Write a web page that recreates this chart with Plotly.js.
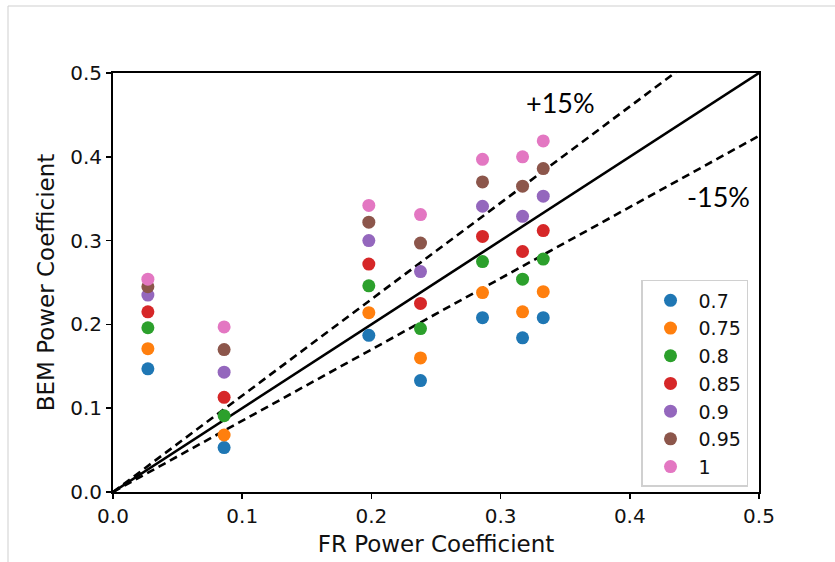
<!DOCTYPE html>
<html>
<head>
<meta charset="utf-8">
<script src="https://cdn.plot.ly/plotly-3.0.1.min.js"></script>
<style>html,body{margin:0;padding:0;background:#fff}#chart{width:835px;height:562px}</style>
</head>
<body>
<div id="chart"></div>
<script>
// FR power coefficient (x) for each test case
const frCp = [0.027, 0.086, 0.198, 0.238, 0.286, 0.317, 0.333];
// Series labels
const seriesNames = ["0.7", "0.75", "0.8", "0.85", "0.9", "0.95", "1"];
// BEM power coefficient for each series
const bem070 = [0.147, 0.053, 0.187, 0.133, 0.208, 0.184, 0.208];
const bem075 = [0.171, 0.068, 0.214, 0.160, 0.238, 0.215, 0.239];
const bem080 = [0.196, 0.091, 0.246, 0.195, 0.275, 0.254, 0.278];
const bem085 = [0.215, 0.113, 0.272, 0.225, 0.305, 0.287, 0.312];
const bem090 = [0.235, 0.143, 0.300, 0.263, 0.341, 0.329, 0.353];
const bem095 = [0.245, 0.170, 0.322, 0.297, 0.370, 0.365, 0.386];
const bem100 = [0.254, 0.197, 0.342, 0.331, 0.397, 0.400, 0.419];
const seriesValues = [bem070, bem075, bem080, bem085, bem090, bem095, bem100];
const colors = ["#1f77b4", "#ff7f0e", "#2ca02c", "#d62728", "#9467bd", "#8c564b", "#e377c2"];
// Reference lines
const lineX = [0, 0.5];
const slopes = [1.0, 1.15, 0.85];
const tickVals = [0, 0.1, 0.2, 0.3, 0.4, 0.5];

const traces = [];
slopes.forEach((s, i) => {
  traces.push({
    x: lineX, y: lineX.map(v => v * s), mode: "lines", showlegend: false, hoverinfo: "skip",
    line: {color: "#000", width: 2.6, dash: i === 0 ? "solid" : "8px,5px"}
  });
});
seriesNames.forEach((n, i) => {
  traces.push({
    x: frCp, y: seriesValues[i], mode: "markers", name: n, type: "scatter",
    marker: {color: colors[i], size: 13, line: {width: 0}}
  });
});

const axisCommon = {
  range: [0, 0.5], tickvals: tickVals, tickformat: ".1f",
  showline: true, mirror: true, linecolor: "#000", linewidth: 2,
  ticks: "outside", ticklen: 5, tickwidth: 1.5, tickcolor: "#000",
  showgrid: false, zeroline: false,
  tickfont: {family: "DejaVu Sans", size: 20, color: "#111"}
};

const layout = {
  width: 835, height: 562,
  margin: {l: 113, r: 76, t: 73, b: 70},
  paper_bgcolor: "#fff", plot_bgcolor: "#fff",
  xaxis: Object.assign({}, axisCommon, {
    title: {text: "FR Power Coefficient", font: {family: "DejaVu Sans", size: 23, color: "#111"}, standoff: 9}
  }),
  yaxis: Object.assign({}, axisCommon, {
    title: {text: "BEM Power Coefficient", font: {family: "DejaVu Sans", size: 23, color: "#111"}, standoff: 9}
  }),
  legend: {
    x: 0.983, y: 0.506, xanchor: "right", yanchor: "top",
    bgcolor: "#fff", bordercolor: "#d0d0d0", borderwidth: 1.5,
    itemwidth: 46,
    font: {family: "DejaVu Sans", size: 19, color: "#111"}
  },
  annotations: [
    {text: "+15%", xref: "paper", yref: "paper", x: (560 - 113) / 646, y: (492 - 102) / 419,
     xanchor: "center", yanchor: "middle",
     showarrow: false, font: {family: "Lato", size: 27, color: "#000"}},
    {text: "-15%", xref: "paper", yref: "paper", x: (718 - 113) / 646, y: (492 - 196) / 419,
     xanchor: "center", yanchor: "middle",
     showarrow: false, font: {family: "Lato", size: 27, color: "#000"}}
  ],
  shapes: [
    {type: "line", xref: "paper", yref: "paper", x0: (8 - 113) / 646, x1: (835 - 113) / 646,
     y0: (492 - 6) / 419, y1: (492 - 6) / 419, line: {color: "#cfcfcf", width: 1}},
    {type: "line", xref: "paper", yref: "paper", x0: (8 - 113) / 646, x1: (8 - 113) / 646,
     y0: (492 - 6) / 419, y1: (492 - 562) / 419, line: {color: "#cfcfcf", width: 1}}
  ],
  showlegend: true
};

Plotly.newPlot("chart", traces, layout, {displayModeBar: false, staticPlot: true});
</script>
</body>
</html>
